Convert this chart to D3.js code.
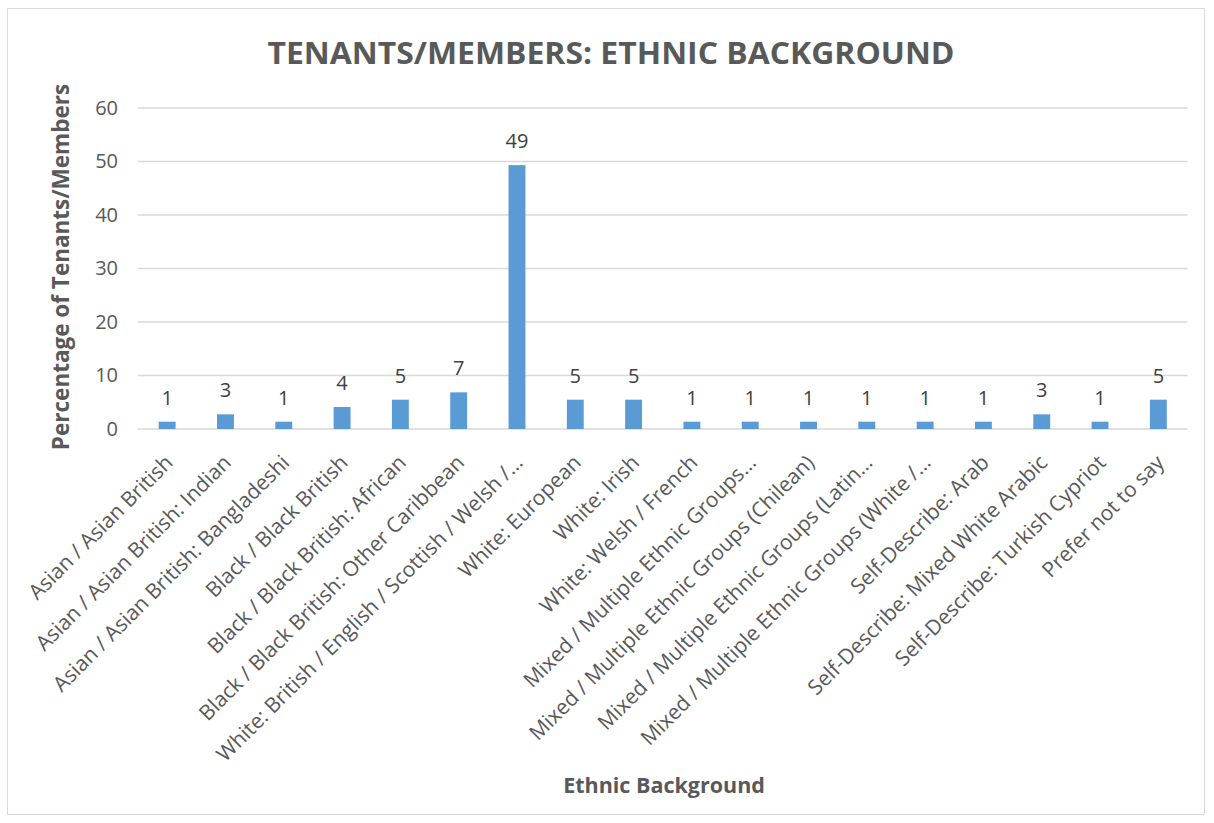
<!DOCTYPE html>
<html><head><meta charset="utf-8">
<script src="https://cdn.jsdelivr.net/npm/d3@7"></script>
<style>body{margin:0;background:#fff;} text{font-family:"Open Sans",sans-serif;}</style>
</head><body>
<svg id="c" width="1214" height="823"></svg>
<script>
const categories = [
  "Asian / Asian British",
  "Asian / Asian British: Indian",
  "Asian / Asian British: Bangladeshi",
  "Black / Black British",
  "Black / Black British: African",
  "Black / Black British: Other Caribbean",
  "White: British / English / Scottish / Welsh /…",
  "White: European",
  "White: Irish",
  "White: Welsh / French",
  "Mixed / Multiple Ethnic Groups…",
  "Mixed / Multiple Ethnic Groups (Chilean)",
  "Mixed / Multiple Ethnic Groups (Latin…",
  "Mixed / Multiple Ethnic Groups (White /…",
  "Self-Describe: Arab",
  "Self-Describe: Mixed White Arabic",
  "Self-Describe: Turkish Cypriot",
  "Prefer not to say"
];
const values = [1.37, 2.74, 1.37, 4.11, 5.48, 6.85, 49.32, 5.48, 5.48, 1.37, 1.37, 1.37, 1.37, 1.37, 1.37, 2.74, 1.37, 5.48];
const yTicks = [0, 10, 20, 30, 40, 50, 60];
const title = "TENANTS/MEMBERS: ETHNIC BACKGROUND";
const xTitle = "Ethnic Background";
const yTitle = "Percentage of Tenants/Members";

const svg = d3.select("#c");
const m = {left: 138, right: 1187.5, top: 108, bottom: 429};

svg.append("rect").attr("x", 7.5).attr("y", 8.5).attr("width", 1197).attr("height", 806)
  .attr("fill", "#fff").attr("stroke", "#D9D9D9");

const x = d3.scaleBand().domain(categories).range([m.left, m.right]).paddingInner(0.71).paddingOuter(0.355);
const y = d3.scaleLinear().domain([0, 60]).range([m.bottom, m.top]);

// grid
svg.append("g").selectAll("line").data(yTicks).join("line")
  .attr("x1", m.left).attr("x2", m.right)
  .attr("y1", d => y(d)).attr("y2", d => y(d))
  .attr("stroke", "#D9D9D9").attr("stroke-width", 1.3);

// y axis labels
const yAxis = svg.append("g").attr("transform", `translate(${m.left - 20},0)`)
  .call(d3.axisLeft(y).tickValues(yTicks).tickSize(0).tickPadding(0));
yAxis.select(".domain").remove();
yAxis.selectAll("text").attr("font-size", 20).attr("fill", "#595959").attr("font-family", "Open Sans");

// bars
svg.append("g").selectAll("rect").data(values).join("rect")
  .attr("x", (d, i) => x(categories[i]))
  .attr("width", x.bandwidth())
  .attr("y", d => y(d))
  .attr("height", d => y(0) - y(d))
  .attr("fill", "#5B9BD5");

// data labels
svg.append("g").selectAll("text").data(values).join("text")
  .attr("x", (d, i) => x(categories[i]) + x.bandwidth() / 2)
  .attr("y", d => y(d) - 17)
  .attr("text-anchor", "middle")
  .attr("font-size", 20).attr("fill", "#404040")
  .text(d => d3.format(".0f")(d));

// x axis labels
const xAxis = svg.append("g").attr("transform", `translate(0,${m.bottom})`)
  .call(d3.axisBottom(x).tickSize(0).tickPadding(0));
xAxis.select(".domain").remove();
xAxis.selectAll("text")
  .attr("font-size", 21).attr("fill", "#595959").attr("font-family", "Open Sans")
  .attr("text-anchor", "end")
  .attr("dy", null)
  .attr("transform", "translate(7,35) rotate(-45)");

// title
svg.append("text").attr("x", 611).attr("y", 64).attr("text-anchor", "middle")
  .attr("font-size", 30).attr("font-weight", "bold").attr("fill", "#595959")
  .attr("textLength", 687).attr("lengthAdjust", "spacingAndGlyphs")
  .text(title);

svg.append("text").attr("x", 664).attr("y", 793).attr("text-anchor", "middle")
  .attr("font-size", 21.5).attr("font-weight", "bold").attr("fill", "#595959")
  .text(xTitle);

svg.append("text").attr("transform", "translate(69,267) rotate(-90)").attr("text-anchor", "middle")
  .attr("font-size", 22.5).attr("font-weight", "bold").attr("fill", "#595959")
  .text(yTitle);
</script>
</body></html>
